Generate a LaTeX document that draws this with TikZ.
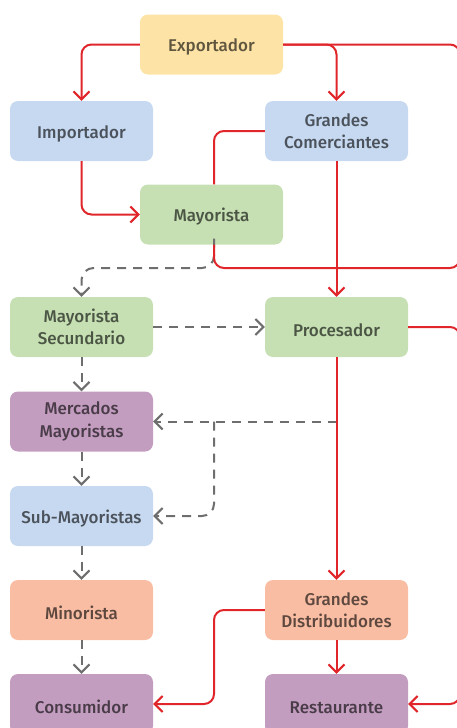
\documentclass[tikz,border=0pt]{standalone}
\usepackage{fontspec}
\setmainfont{Fira Sans}[UprightFont={* Medium},BoldFont={* SemiBold}]
\usetikzlibrary{arrows.meta,calc}
\definecolor{cyel}{HTML}{FDE4A6}
\definecolor{cblu}{HTML}{C6D9F0}
\definecolor{cgrn}{HTML}{C6E0B4}
\definecolor{cpur}{HTML}{C39DC0}
\definecolor{csal}{HTML}{F8BDA3}
\definecolor{cred}{HTML}{E0262B}
\definecolor{cgry}{HTML}{6E6E6E}
\tikzset{
  box/.style={rectangle,rounded corners=8pt,minimum width=143pt,minimum height=60pt,
    inner sep=0pt,align=center,text=black,text opacity=0.62,
    font=\fontsize{17}{22.5}\selectfont,
    execute at begin node={\rule{0pt}{18.5pt}}},
  chev/.style={-{Straight Barb[length=8pt,width=16pt,line width=2pt]}},
  redline/.style={draw=cred,line width=2pt,rounded corners=10pt},
  dashline/.style={draw=cgry,line width=2pt,dash pattern=on 9pt off 7pt,rounded corners=12pt},
}
\begin{document}
\begin{tikzpicture}[x=1pt,y=-1pt]
\useasboundingbox (0,0) rectangle (456,728);
\node[box,fill=cyel] (exp)  at (211.5,44.5) {Exportador};
\node[box,fill=cblu] (imp)  at (81.5,131) {Importador};
\node[box,fill=cblu] (gc)   at (336.5,131) {Grandes\\Comerciantes};
\node[box,fill=cgrn] (may)  at (211.5,214.5) {Mayorista};
\node[box,fill=cgrn] (ms)   at (81.5,327) {Mayorista\\Secundario};
\node[box,fill=cgrn] (proc) at (336.5,327) {Procesador};
\node[box,fill=cpur] (mm)   at (81.5,421.5) {Mercados\\Mayoristas};
\node[box,fill=cblu] (sub)  at (81.5,516) {Sub-Mayoristas};
\node[box,fill=csal] (min)  at (81.5,610) {Minorista};
\node[box,fill=csal] (gd)   at (336.5,610) {Grandes\\Distribuidores};
\node[box,fill=cpur] (cons) at (81.5,704) {Consumidor};
\node[box,fill=cpur] (rest) at (336.5,704) {Restaurante};
\coordinate (xm) at (214,0);
\coordinate (re) at (460,0);
\coordinate (h1) at (0,268);
% dashed connectors
\draw[dashline,chev] ([yshift=6pt]xm |- may.south) -- (xm |- h1) -- (ms.north |- h1) -- (ms.north);
\draw[dashline,chev] (ms.east) -- (proc.west);
\draw[dashline,chev] (ms.south) -- (mm.north);
\draw[dashline,chev] (mm.south) -- (sub.north);
\draw[dashline,chev] (sub.south) -- (min.north);
\draw[dashline,chev] (min.south) -- (cons.north);
\draw[dashline,chev] (proc.south |- mm.east) -- (mm.east);
\draw[dashline,chev] (xm |- mm.east) -- (xm |- sub.east) -- (sub.east);
% red connectors
\draw[redline,chev] (exp.west) -| (imp.north);
\draw[redline,chev] (exp.east) -| (gc.north);
\draw[redline] (exp.east) -- (re |- exp.east) -- (re |- h1) -- (xm |- h1) -- (xm |- may.south);
\draw[redline] (gc.west) -| (xm |- may.north);
\draw[redline,chev] (imp.south) |- (may.west);
\draw[redline,chev] (gc.south) -- (proc.north);
\draw[redline,chev] (proc.south) -- (gd.north);
\draw[redline,chev] (proc.east) -- (re |- proc.east) -- (re |- rest.east) -- (rest.east);
\draw[redline,chev] (gd.west) -- (xm |- gd.west) -- (xm |- cons.east) -- (cons.east);
\draw[redline,chev] (gd.south) -- (rest.north);
\end{tikzpicture}
\end{document}
